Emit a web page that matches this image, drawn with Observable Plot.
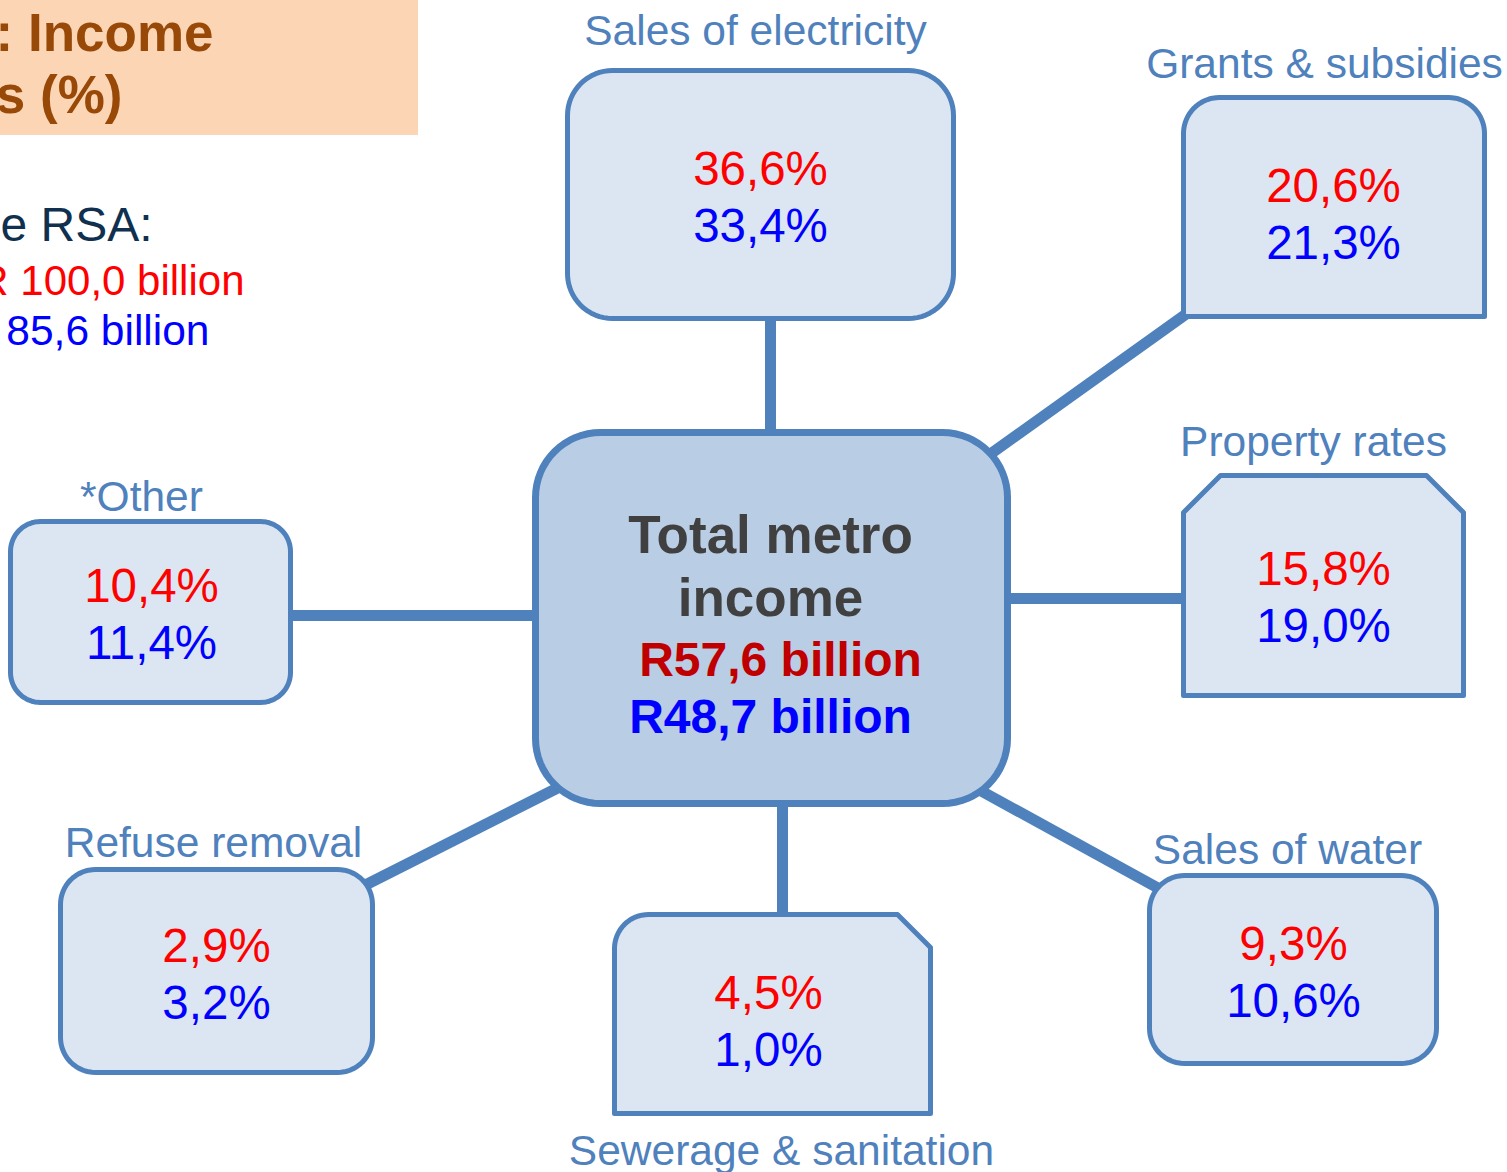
<!DOCTYPE html>
<html>
<head>
<meta charset="utf-8">
<script src="https://cdn.jsdelivr.net/npm/d3@7"></script>
<script src="https://cdn.jsdelivr.net/npm/@observablehq/plot@0.6"></script>
<style>
  html, body { margin: 0; padding: 0; background: #ffffff; }
  #chart svg { display: block; }
</style>
</head>
<body>
<div id="chart"></div>
<script>
// ---------------- DATA ----------------
const categories = ["Sales of electricity", "Grants & subsidies", "Property rates", "Sales of water", "Sewerage & sanitation", "Refuse removal", "*Other"];
const redShares  = [36.6, 20.6, 15.8, 9.3, 4.5, 2.9, 10.4];
const blueShares = [33.4, 21.3, 19.0, 10.6, 1.0, 3.2, 11.4];
const centreTitle = ["Total metro", "income"];
const metroTotals = [57.6, 48.7];      // red, blue (R billion)
const rsaTotals   = [100.0, 85.6];     // red, blue (R billion)
const titleLines  = [": Income", "s (%)"];
const rsaLabel    = "e RSA:";

// ---------------- LAYOUT (positions / styles only) ----------------
const W = 1507, H = 1172;
const C_STROKE = "#4f81bd", C_FILL = "#dce6f2", C_CENTRE = "#b9cde5";
const FONT = "Liberation Sans, Arial, Helvetica, sans-serif";

const boxes = [
  {x0: 567,  x1: 953,  y0: 70,  y1: 318,  c: [["r",45],["r",45],["r",45],["r",45]], lab: [755, 44],   val: [760, 184],  conn: [770, 305, 770, 440]},
  {x0: 1183, x1: 1484, y0: 97,  y1: 316,  c: [["r",36],["r",36],["s",0],["s",0]],   lab: [1324, 77],  val: [1333, 201], conn: [985, 457, 1192, 309]},
  {x0: 1183, x1: 1463, y0: 475, y1: 695,  c: [["c",37],["c",37],["s",0],["s",0]],   lab: [1313, 455], val: [1323, 584], conn: [1000, 598, 1192, 598]},
  {x0: 1149, x1: 1436, y0: 875, y1: 1063, c: [["r",35],["r",35],["r",35],["r",35]], lab: [1287, 863], val: [1293, 959], conn: [978, 789, 1162, 890]},
  {x0: 614,  x1: 930,  y0: 914, y1: 1113, c: [["r",34],["c",33],["s",0],["s",0]],   lab: [781, 1164], val: [768, 1008], conn: [782, 795, 782, 922]},
  {x0: 60,   x1: 372,  y0: 869, y1: 1072, c: [["r",35],["r",35],["r",35],["r",35]], lab: [213, 856],  val: [216, 961],  conn: [562, 785, 358, 888]},
  {x0: 10,   x1: 290,  y0: 521, y1: 702,  c: [["r",30],["r",30],["r",30],["r",30]], lab: [141, 510],  val: [151, 601],  conn: [282, 615, 542, 615]}
];
const centreBox = {x0: 535, x1: 1007, y0: 432, y1: 803, c: [["r",65],["r",65],["r",65],["r",65]]};
const lineGap = 57;

// ---------------- helpers ----------------
function shapePoints(b, id) {
  const corners = [
    {px: b.x0, py: b.y0, sx: 1,  sy: 1,  a0: 180},
    {px: b.x1, py: b.y0, sx: -1, sy: 1,  a0: 270},
    {px: b.x1, py: b.y1, sx: -1, sy: -1, a0: 0},
    {px: b.x0, py: b.y1, sx: 1,  sy: -1, a0: 90}
  ];
  const pts = [];
  corners.forEach((k, i) => {
    const [type, r] = b.c[i];
    if (type === "s") { pts.push({id, x: k.px, y: k.py}); return; }
    const n = type === "r" ? 16 : 1;
    const cx = k.px + k.sx * r, cy = k.py + k.sy * r;
    for (let j = 0; j <= n; j++) {
      const a = (k.a0 + 90 * j / n) * Math.PI / 180;
      pts.push({id, x: cx + r * Math.cos(a), y: cy + r * Math.sin(a)});
    }
  });
  return pts;
}
const fmtPct = v => v.toFixed(1).replace(".", ",") + "%";
const fmtBn = (v, sp) => "R" + sp + v.toFixed(1).replace(".", ",") + " billion";

const boxPts = boxes.flatMap((b, i) => shapePoints(b, i));
const centrePts = shapePoints(centreBox, "c");

const links = boxes.map(b => ({x1: b.conn[0], y1: b.conn[1], x2: b.conn[2], y2: b.conn[3]}));

const catLabels = boxes.map((b, i) => ({x: b.lab[0], y: b.lab[1], t: categories[i]}));
const redLabels = boxes.map((b, i) => ({x: b.val[0], y: b.val[1], t: fmtPct(redShares[i])}));
const blueLabels = boxes.map((b, i) => ({x: b.val[0], y: b.val[1] + lineGap, t: fmtPct(blueShares[i])}));

const plot = Plot.plot({
  width: W,
  height: H,
  margin: 0,
  x: {domain: [0, W], range: [0, W], axis: null},
  y: {domain: [0, H], range: [0, H], axis: null},
  style: {background: "#ffffff", fontFamily: FONT},
  marks: [
    // title panel
    Plot.rect([{x1: 0, x2: 418, y1: 0, y2: 135}], {x1: "x1", x2: "x2", y1: "y1", y2: "y2", fill: "#fcd5b4"}),
    Plot.text(titleLines.map((t, i) => ({t, x: i === 0 ? 213 : 122, y: i === 0 ? 50 : 112})),
      {x: "x", y: "y", text: "t", textAnchor: "end", lineAnchor: "bottom", fontSize: 53, fontWeight: "bold", fill: "#984807", fontFamily: FONT}),
    // RSA totals
    Plot.text([{t: rsaLabel, x: 152, y: 240}], {x: "x", y: "y", text: "t", textAnchor: "end", lineAnchor: "bottom", fontSize: 48, fill: "#10304f", fontFamily: FONT}),
    Plot.text([{t: fmtBn(rsaTotals[0], " "), x: 244, y: 294}], {x: "x", y: "y", text: "t", textAnchor: "end", lineAnchor: "bottom", fontSize: 42, fill: "#ff0000", fontFamily: FONT}),
    Plot.text([{t: fmtBn(rsaTotals[1], "").slice(1), x: 209, y: 344}], {x: "x", y: "y", text: "t", textAnchor: "end", lineAnchor: "bottom", fontSize: 42.5, fill: "#0000ff", fontFamily: FONT}),
    // connectors
    Plot.link(links, {x1: "x1", y1: "y1", x2: "x2", y2: "y2", stroke: C_STROKE, strokeWidth: 11}),
    // boxes
    Plot.line(boxPts, {x: "x", y: "y", z: "id", curve: "linear-closed", fill: C_FILL, stroke: C_STROKE, strokeWidth: 5, strokeLinejoin: "round"}),
    Plot.line(centrePts, {x: "x", y: "y", z: "id", curve: "linear-closed", fill: C_CENTRE, stroke: C_STROKE, strokeWidth: 7}),
    // category labels
    Plot.text(catLabels, {x: "x", y: "y", text: "t", lineAnchor: "bottom", fontSize: 42.5, fill: C_STROKE, fontFamily: FONT}),
    Plot.text(redLabels, {x: "x", y: "y", text: "t", lineAnchor: "bottom", fontSize: 47.5, fill: "#ff0000", fontFamily: FONT}),
    Plot.text(blueLabels, {x: "x", y: "y", text: "t", lineAnchor: "bottom", fontSize: 47.5, fill: "#0000ff", fontFamily: FONT}),
    // centre text
    Plot.text(centreTitle.map((t, i) => ({t, x: 770, y: 552 + 63 * i})),
      {x: "x", y: "y", text: "t", lineAnchor: "bottom", fontSize: 53, fontWeight: "bold", fill: "#404040", fontFamily: FONT}),
    Plot.text([{t: fmtBn(metroTotals[0], ""), x: 780, y: 675}], {x: "x", y: "y", text: "t", lineAnchor: "bottom", fontSize: 48, fontWeight: "bold", fill: "#c00000", fontFamily: FONT}),
    Plot.text([{t: fmtBn(metroTotals[1], ""), x: 770, y: 732}], {x: "x", y: "y", text: "t", lineAnchor: "bottom", fontSize: 48, fontWeight: "bold", fill: "#0000ff", fontFamily: FONT})
  ]
});
document.getElementById("chart").appendChild(plot);
</script>
</body>
</html>
